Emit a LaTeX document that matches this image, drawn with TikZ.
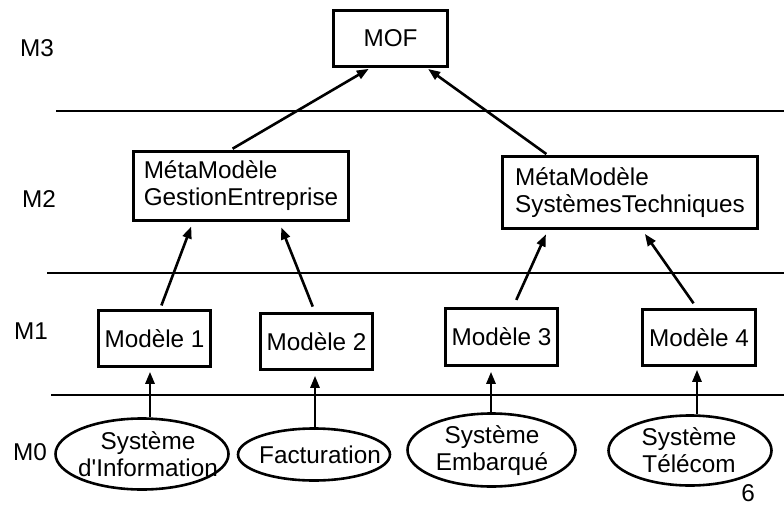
\documentclass[tikz,border=0pt]{standalone}
\usepackage{fontspec}
\setmainfont{Liberation Sans}
\usetikzlibrary{arrows.meta,shapes.geometric}
\begin{document}
\begin{tikzpicture}[x=1pt,y=-1pt,
  every node/.style={font=\fontsize{24.3}{27}\selectfont, inner sep=0pt},
  lw/.style={line width=2.6pt},
  box/.style={draw, lw, align=left},
  sysell/.style={draw, lw, ellipse},
  arr/.style={lw, -{Triangle[length=12pt,width=9pt]}}
]
\useasboundingbox (0,0) rectangle (784,506);

% level separators
\draw[lw] (56,111) -- (784,111);
\draw[lw] (47,273) -- (784,273);
\draw[lw] (51,395) -- (784,395);

% level labels
\node (l3) at (37,48) {M3};
\node (l2) at (39,199) {M2};
\node (l1) at (31,331) {M1};
\node (l0) at (30,452) {M0};

% M3
\node[box, minimum width=114pt, minimum height=56pt] (mof) at (390.5,38.5) {MOF};

% M2
\node[box, minimum width=215pt, minimum height=69pt] (ge) at (241,186) {MétaModèle\\GestionEntreprise};
\node[box, minimum width=255pt, minimum height=72pt] (st) at (630,192.5) {MétaModèle\\SystèmesTechniques};

% M1
\node[box, minimum width=112pt, minimum height=56pt] (m1) at (154.5,338.5) {Modèle 1};
\node[box, minimum width=112pt, minimum height=56pt] (m2) at (316.5,341.5) {Modèle 2};
\node[box, minimum width=112pt, minimum height=57pt] (m3) at (501.5,337) {Modèle 3};
\node[box, minimum width=113pt, minimum height=56pt] (m4) at (699,337.5) {Modèle 4};

% M0
\node[sysell, minimum width=173pt, minimum height=71pt] (e1) at (142,454) {};
\node[sysell, minimum width=152pt, minimum height=52pt] (e2) at (314,454.5) {};
\node[sysell, minimum width=168pt, minimum height=73pt] (e3) at (491.5,450) {};
\node[sysell, minimum width=163pt, minimum height=70pt] (e4) at (690,450.5) {};
\node[align=center] (t1) at (148,454) {Système\\d\textquotesingle Information};
\node (t2) at (320,455) {Facturation};
\node[align=center] (t3) at (492,451) {Système\\Embarqué};
\node[align=center] (t4) at (689,450) {Système\\Télécom};

% page number
\node (pg) at (748,493.5) {6};

% instance-of arrows
\draw[arr, shorten <=3pt, shorten >=2pt] ([xshift=-11pt]ge.north) -- ([xshift=-20pt]mof.south);
\draw[arr, shorten <=2pt, shorten >=2pt] ([xshift=-82pt]st.north) -- ([xshift=36pt]mof.south);

\draw[arr, shorten <=4pt, shorten >=5pt] ([xshift=5.5pt]m1.north) -- ([xshift=-48pt]ge.south);
\draw[arr, shorten <=6pt, shorten >=6pt] ([xshift=-1.5pt]m2.north) -- ([xshift=38pt]ge.south);
\draw[arr, shorten <=8pt, shorten >=5pt] ([xshift=11.5pt]m3.north) -- ([xshift=-82pt]st.south);
\draw[arr, shorten <=6pt, shorten >=5pt] ([xshift=-2pt]m4.north) -- ([xshift=12pt]st.south);

\draw[arr, shorten >=4pt] ([xshift=8pt]e1.north) -- ([xshift=-4.5pt]m1.south);
\draw[arr, shorten <=-3pt, shorten >=5pt] ([xshift=1pt]e2.north) -- ([xshift=-1.5pt]m2.south);
\draw[arr, shorten >=5pt] ([xshift=-0.5pt]e3.north) -- ([xshift=-10.5pt]m3.south);
\draw[arr, shorten >=3pt] ([xshift=7pt]e4.north) -- ([xshift=-2pt]m4.south);
\end{tikzpicture}
\end{document}
